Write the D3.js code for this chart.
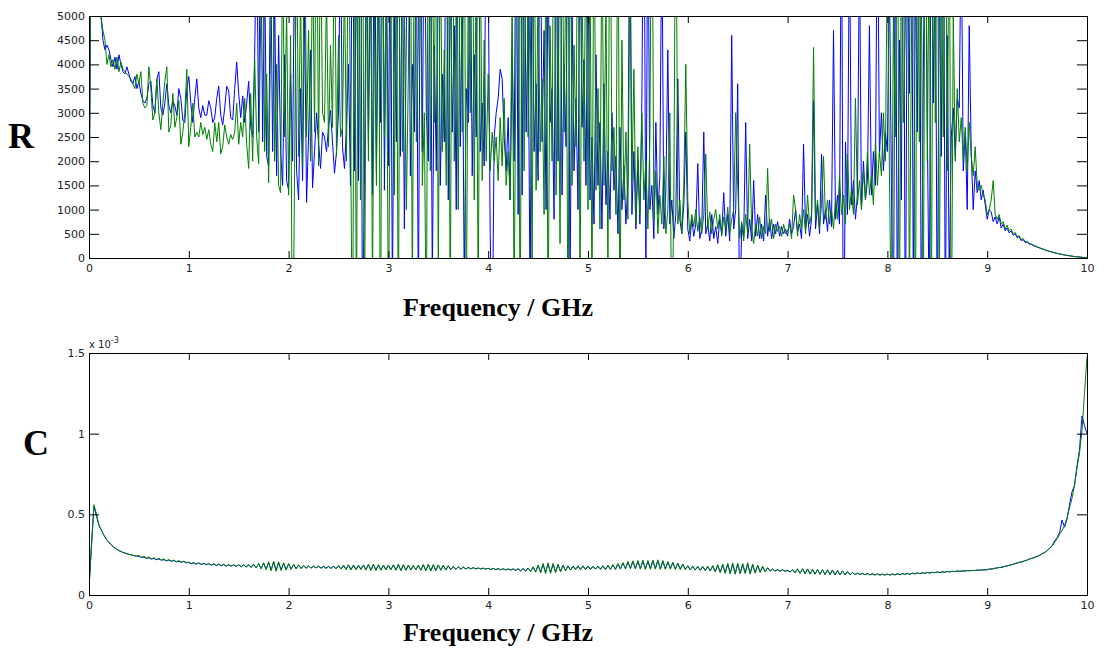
<!DOCTYPE html>
<html>
<head>
<meta charset="utf-8">
<script src="https://cdn.jsdelivr.net/npm/d3@7"></script>
<style>
  body { margin: 0; background: #fff; }
  svg { display: block; }
</style>
</head>
<body>
<svg id="chart" width="1107" height="650"></svg>
<script>
// sample spacing in GHz (R every 0.02, C every 0.025, starting at 0)
const rStep = 0.02;
const cStep = 0.025;

// R, blue trace (ohm), one line per 0.5 GHz
const rBlue = [
  0, 7000, 6500, 6000, 5600, 5300, 5000, 4500, 4300, 4400, 4300, 4100, 3950, 4150, 3900, 4200, 4000, 3850, 3800, 3950, 3800, 3650, 3600, 3750, 3500,
  3650, 3400, 3250, 3200, 3300, 3600, 3650, 3150, 3000, 3700, 3850, 3100, 2950, 3200, 3600, 3150, 3000, 3250, 3150, 2950, 3500, 3300, 2850, 2800, 3500,
  3750, 3200, 2800, 3300, 3700, 3100, 2900, 3150, 2950, 2950, 3250, 3100, 2800, 2900, 3300, 3550, 2950, 2750, 3100, 3550, 3450, 2900, 2850, 3500, 4050,
  3400, 2900, 3350, 2800, 3200, 3650, 2700, 2500, 4200, 7000, 2600, 7500, 2400, 6000, 2100, 1900, 6500, 2200, 5500, 1700, 4600, 2200, 1500, 4200, 1600,
  1400, 3800, 2000, 6500, 1800, 1200, 3500, 1600, 5200, 1150, 2500, 4300, 1450, 2200, 3000, 2400, 1850, 2600, 2500, 2200, 2700, 3050, 2400, 1750, 2200,
  3000, 7000, 2300, 1850, 2700, 4000, 1500, 8000, 1800, 6500, 1600, 9000, -1500, 1500, 7000, 2400, 6000, 1300, 8000, 1800, 5500, 2800, 9000, 1400, 6000,
  1900, 7500, -800, 5000, 2400, 8000, 2100, 6500, 600, 4800, 9000, 1700, 4000, 2600, 7000, -1200, 6500, 2200, 8000, 3000, 2000, 7500, -500, 4400, 1800,
  8000, 1500, 3800, 2400, 9000, 1200, 6000, 2600, 4800, 1000, 8500, 2300, 5500, -600, 3500, 2800, 7000, 1700, 4200, 2500, 9000, 2200, 3200, 1900, 8000,
  6000, 500, -2000, 2500, 3000, 3300, 3900, 3700, 2500, 1800, 2900, 1200, 4200, 2000, 8000, 900, 9000, 1300, 7500, 2600, 5000, -1000, 6800, 2200, 3600,
  1600, 8500, 2400, 4700, 1000, 6000, 2800, 3500, 800, 7500, 2000, 9000, 1300, 4000, 2300, 8500, -800, 5200, 1800, 3300, 1000, 7000, 2700, 4100, 1500,
  6500, 1200, 2500, 700, 4200, 1500, 2800, 600, 3600, 1100, 2200, 800, 3000, 1400, 2100, 500, 2700, 1000, 1900, 700, 1600, 8000, 900, 2200, 600,
  2000, 700, 3300, 9000, -500, 8000, 1000, 1500, 400, 2800, 900, 1700, 7000, 600, 1400, 4300, 700, 1200, 400, 900, 3700, 800, 500, 1100, 2600,
  600, 350, 800, 450, 700, 1950, 400, 600, 2600, 500, 700, 350, 900, 400, 650, 300, 800, 500, 1350, 450, 900, 350, 4600, 600, 1000,
  3600, -1500, 700, 450, 2800, 400, 800, 350, 1600, 450, 900, 400, 700, 350, 1300, 450, 800, 400, 700, 500, 750, 450, 650, 500, 600,
  450, 800, 500, 650, 1000, 550, 700, 400, 2350, 600, 900, 450, 800, 3250, 600, 1100, 500, 2150, 700, 1000, 550, 1200, 650, 4700, 800,
  1300, 700, 8000, -3000, 2400, 900, 7000, 1100, 1600, 800, 1300, 6500, 1000, 2000, 1200, 1600, 4800, 1300, 2200, 1500, 8000, 2100, 3000, 1800, 2600,
  2200, 6000, 1500, -2000, 8000, -1500, 4500, 1200, 9000, -2500, 7000, 3400, 9000, -1000, 6000, 2600, 9000, -2000, 3800, 8000, 2700, -1500, 9000, 3200, 7000,
  -2000, 6000, 2100, 9000, -1500, 4600, -500, 2500, 3100, 2100, 3300, 3100, 7000, 1800, 2600, 1000, 4800, 2200, 1000, 1800, 1350, 1600, 1200, 1400, 1100,
  800, 1000, 950, 750, 850, 700, 850, 620, 700, 560, 620, 520, 560, 470, 500, 420, 440, 360, 380, 320, 330, 290, 280, 260, 240,
  225, 210, 195, 180, 165, 150, 138, 126, 115, 104, 94, 85, 76, 68, 60, 53, 46, 40, 34, 29, 24, 20, 16, 12, 9,
  6
];

// R, green trace (ohm)
const rGreen = [
  300, 7000, 6800, 6200, 5800, 5400, 5000, 4700, 4500, 4000, 4200, 3950, 4100, 3900, 4150, 3850, 4050, 3900, 3850, 3800, 3750, 3700, 3600, 3500, 3800,
  3600, 3850, 3200, 3100, 3150, 3950, 3500, 2850, 3000, 3700, 3000, 2650, 3200, 3650, 3950, 2600, 2750, 3400, 2700, 2900, 3250, 2350, 2600, 3000, 3900,
  2300, 2700, 3200, 2500, 2600, 2500, 2800, 2550, 2700, 2450, 2650, 2350, 2200, 2800, 2400, 2800, 2150, 2300, 2750, 2500, 2350, 2550, 2450, 2600, 3200,
  2350, 2800, 2500, 3300, 2350, 1850, 3400, 2000, 4100, 2500, 1950, 4800, 8000, 2200, 3800, 1550, 4500, 7500, 2000, 4000, 1500, 1350, 6500, 2500, 5200,
  1300, 4600, -3000, 1800, 7000, 2100, 5500, 1900, 8000, 2500, 4700, 2000, 6500, 2600, 8500, 1900, 7000, 3000, 2800, 5500, 2300, 4400, 2700, 7000, 2100,
  4600, 2500, 2700, 5800, 2000, 7500, 3000, -2500, 7000, -1500, 8000, 1200, 9000, -2000, 6500, 2000, 9000, -800, 5000, 1500, 8500, -2500, 7000, 2500, 6000,
  -1500, 4000, 8000, 1300, 6800, -2000, 9000, 2200, 5000, 1000, 3800, 8000, -1000, 7500, 2400, 4500, 9000, 1500, 3000, -2000, 8500, 1800, 6500, 2800, 9000,
  -500, 7000, 2200, 4300, 1500, 8000, -1500, 9000, 2000, 5500, 1000, 7500, 2600, 8500, -2000, 6000, 3000, 9000, 1200, 6500, -1000, 7000, 1600, 4500, 2000,
  3800, 1800, 2600, 2000, 2500, 1600, 2900, 1900, 3300, 1500, 2200, 1200, 5500, -1000, 4800, 8000, -2000, 7500, 1800, 9000, 2500, 5500, -500, 8000, 1400,
  6000, 2200, 3700, 900, 7000, -1500, 4800, 2000, 9000, 1300, 5200, 300, 8000, 2600, 6500, -2000, 9000, 1500, 4400, 2300, 8500, -800, 5800, 2000, 7500,
  1000, 6500, -1000, 8000, 1400, 3500, 600, 7000, 1500, 5500, -500, 9000, 1800, 2700, 900, 8000, -1500, 4500, 1200, 2600, 800, 6000, 1600, 3900, 700,
  2300, 900, 3000, 1200, 2000, 600, 2500, 9000, 800, 1800, 500, 1300, 700, 2100, 500, 1000, 3000, -2000, 1200, 9000, 700, 1200, 500, 1500, 4000,
  1200, 500, 900, 650, 1000, 550, 850, 500, 900, 2150, 600, 950, 500, 800, 1000, 600, 900, 450, 850, 600, 1050, 500, 800, 1000, 3000,
  1500, 400, 750, 350, 900, 500, 2350, 600, 300, 700, 450, 850, 400, 650, 500, 1850, 550, 800, 400, 700, 550, 650, 450, 700, 500,
  550, 700, 400, 1300, 1000, 450, 900, 600, 1000, 500, 1300, 700, 900, 4350, 800, 1200, 600, 1100, 2100, 800, 1200, 700, 1000, 600, 1200,
  800, 1700, 900, 1300, 700, 2150, 1000, 1400, 900, 3300, 1100, 1600, 1000, 1800, 1200, 2200, 1300, 1700, 1100, 2400, 1500, 2200, 1700, 3000, 2000,
  6500, 1800, -1500, 5000, 2500, 9000, -2000, 7000, 2800, 4800, 9000, -1000, 4200, 8000, -2500, 9000, 2400, 6000, -1500, 9000, 2000, 7000, -2000, 8500, 2800,
  9000, -1000, 6500, 2500, 9000, 1800, 8000, -2500, 5000, 2000, 3500, 2400, 2900, 2000, 2700, 1800, 2800, 2100, 1700, 2300, 1500, 1400, 1500, 1300, 1200,
  900, 1000, 1200, 1600, 900, 800, 900, 700, 750, 600, 680, 560, 600, 500, 530, 440, 460, 380, 400, 340, 345, 300, 290, 270, 250,
  232, 216, 200, 185, 170, 155, 142, 130, 118, 107, 97, 88, 79, 70, 62, 55, 48, 42, 36, 30, 25, 21, 17, 13, 10,
  7
];

// C, blue trace (x 10^-3), one line per GHz
const cBlue = [
  0.04, 0.30, 0.55, 0.49, 0.43, 0.40, 0.37, 0.345, 0.325, 0.31, 0.295, 0.285, 0.275, 0.268, 0.262, 0.257, 0.252, 0.248, 0.244, 0.240, 0.240, 0.232, 0.234, 0.227, 0.230, 0.223, 0.226, 0.219, 0.223, 0.216, 0.219, 0.212, 0.216, 0.209, 0.213, 0.206, 0.210, 0.203, 0.207, 0.200,
  0.201, 0.194, 0.199, 0.192, 0.197, 0.190, 0.195, 0.188, 0.193, 0.186, 0.191, 0.184, 0.190, 0.182, 0.188, 0.180, 0.187, 0.179, 0.186, 0.178, 0.186, 0.176, 0.186, 0.174, 0.186, 0.172, 0.188, 0.170, 0.192, 0.165, 0.196, 0.160, 0.200, 0.155, 0.205, 0.152, 0.200, 0.156, 0.196, 0.158,
  0.192, 0.160, 0.188, 0.163, 0.185, 0.165, 0.182, 0.166, 0.180, 0.167, 0.178, 0.168, 0.177, 0.167, 0.176, 0.166, 0.176, 0.165, 0.177, 0.164, 0.180, 0.162, 0.183, 0.160, 0.185, 0.158, 0.184, 0.159, 0.182, 0.160, 0.184, 0.157, 0.187, 0.155, 0.188, 0.154, 0.186, 0.156, 0.184, 0.158,
  0.183, 0.158, 0.185, 0.155, 0.187, 0.153, 0.186, 0.154, 0.183, 0.156, 0.181, 0.157, 0.183, 0.154, 0.186, 0.152, 0.188, 0.151, 0.186, 0.153, 0.184, 0.155, 0.182, 0.156, 0.179, 0.158, 0.176, 0.160, 0.174, 0.161, 0.172, 0.162, 0.170, 0.163, 0.169, 0.162, 0.167, 0.162, 0.166, 0.161,
  0.165, 0.159, 0.164, 0.158, 0.163, 0.157, 0.162, 0.156, 0.161, 0.155, 0.161, 0.153, 0.162, 0.150, 0.163, 0.148, 0.166, 0.147, 0.172, 0.146, 0.182, 0.145, 0.190, 0.142, 0.194, 0.140, 0.192, 0.143, 0.188, 0.147, 0.183, 0.152, 0.180, 0.156, 0.178, 0.158, 0.180, 0.157, 0.179, 0.158,
  0.178, 0.160, 0.177, 0.161, 0.178, 0.160, 0.180, 0.159, 0.182, 0.160, 0.186, 0.160, 0.192, 0.162, 0.198, 0.164, 0.204, 0.166, 0.208, 0.165, 0.210, 0.164, 0.212, 0.162, 0.210, 0.163, 0.212, 0.164, 0.214, 0.162, 0.210, 0.163, 0.205, 0.164, 0.200, 0.162, 0.195, 0.161, 0.190, 0.160,
  0.180, 0.156, 0.178, 0.155, 0.176, 0.154, 0.175, 0.153, 0.176, 0.150, 0.180, 0.146, 0.184, 0.141, 0.188, 0.137, 0.191, 0.134, 0.193, 0.132, 0.192, 0.134, 0.190, 0.136, 0.192, 0.134, 0.188, 0.138, 0.182, 0.142, 0.176, 0.146, 0.168, 0.148, 0.160, 0.149, 0.157, 0.148, 0.156, 0.147,
  0.152, 0.143, 0.156, 0.139, 0.160, 0.135, 0.161, 0.133, 0.160, 0.131, 0.158, 0.130, 0.157, 0.129, 0.156, 0.128, 0.155, 0.127, 0.154, 0.126, 0.152, 0.125, 0.150, 0.124, 0.146, 0.125, 0.140, 0.126, 0.136, 0.127, 0.134, 0.126, 0.133, 0.125, 0.132, 0.124, 0.131, 0.123, 0.130, 0.123,
  0.130, 0.123, 0.131, 0.124, 0.132, 0.125, 0.133, 0.127, 0.134, 0.128, 0.136, 0.130, 0.137, 0.132, 0.138, 0.134, 0.140, 0.136, 0.141, 0.138, 0.143, 0.139, 0.144, 0.141, 0.146, 0.143, 0.147, 0.145, 0.149, 0.146, 0.150, 0.148, 0.152, 0.150, 0.153, 0.151, 0.155, 0.153, 0.156, 0.155,
  0.158, 0.162, 0.160, 0.166, 0.168, 0.172, 0.171, 0.178, 0.180, 0.186, 0.188, 0.195, 0.198, 0.204, 0.205, 0.212, 0.216, 0.224, 0.228, 0.232, 0.240, 0.245, 0.256, 0.262, 0.275, 0.290, 0.305, 0.335, 0.355, 0.385, 0.465, 0.420, 0.470, 0.560, 0.640, 0.680, 0.800, 0.900, 1.110, 1.050,
  1.000
];

// C, green trace (x 10^-3)
const cGreen = [
  0.04, 0.32, 0.56, 0.50, 0.435, 0.40, 0.37, 0.345, 0.325, 0.31, 0.295, 0.284, 0.275, 0.268, 0.262, 0.257, 0.252, 0.249, 0.245, 0.242, 0.245, 0.233, 0.240, 0.228, 0.236, 0.224, 0.231, 0.220, 0.227, 0.216, 0.224, 0.212, 0.220, 0.209, 0.217, 0.206, 0.213, 0.203, 0.210, 0.200,
  0.204, 0.194, 0.202, 0.191, 0.200, 0.189, 0.198, 0.187, 0.196, 0.185, 0.194, 0.183, 0.193, 0.181, 0.191, 0.179, 0.190, 0.178, 0.189, 0.176, 0.189, 0.174, 0.189, 0.172, 0.189, 0.170, 0.192, 0.167, 0.196, 0.162, 0.200, 0.157, 0.206, 0.150, 0.210, 0.147, 0.205, 0.151, 0.200, 0.154,
  0.196, 0.158, 0.191, 0.161, 0.188, 0.163, 0.184, 0.165, 0.182, 0.166, 0.180, 0.167, 0.179, 0.166, 0.178, 0.165, 0.178, 0.164, 0.179, 0.162, 0.183, 0.160, 0.186, 0.157, 0.188, 0.155, 0.187, 0.156, 0.185, 0.157, 0.187, 0.154, 0.191, 0.152, 0.192, 0.151, 0.189, 0.153, 0.186, 0.155,
  0.186, 0.156, 0.188, 0.153, 0.190, 0.151, 0.189, 0.152, 0.186, 0.154, 0.184, 0.155, 0.186, 0.152, 0.189, 0.150, 0.191, 0.149, 0.189, 0.151, 0.187, 0.153, 0.185, 0.154, 0.182, 0.156, 0.178, 0.158, 0.176, 0.159, 0.174, 0.161, 0.172, 0.162, 0.170, 0.161, 0.168, 0.161, 0.167, 0.160,
  0.166, 0.158, 0.165, 0.157, 0.164, 0.156, 0.163, 0.155, 0.162, 0.154, 0.162, 0.151, 0.163, 0.148, 0.165, 0.146, 0.168, 0.144, 0.175, 0.141, 0.186, 0.136, 0.195, 0.132, 0.199, 0.134, 0.196, 0.138, 0.191, 0.143, 0.186, 0.149, 0.182, 0.154, 0.180, 0.156, 0.182, 0.155, 0.181, 0.156,
  0.180, 0.159, 0.179, 0.160, 0.180, 0.158, 0.182, 0.157, 0.185, 0.158, 0.189, 0.158, 0.195, 0.160, 0.202, 0.161, 0.208, 0.162, 0.212, 0.161, 0.214, 0.160, 0.216, 0.158, 0.214, 0.159, 0.216, 0.160, 0.218, 0.158, 0.214, 0.159, 0.208, 0.160, 0.203, 0.158, 0.198, 0.157, 0.193, 0.157,
  0.182, 0.155, 0.180, 0.154, 0.178, 0.153, 0.177, 0.151, 0.178, 0.148, 0.183, 0.143, 0.188, 0.138, 0.192, 0.134, 0.196, 0.131, 0.198, 0.129, 0.197, 0.131, 0.195, 0.133, 0.200, 0.130, 0.192, 0.135, 0.185, 0.140, 0.178, 0.145, 0.170, 0.147, 0.162, 0.148, 0.158, 0.147, 0.157, 0.146,
  0.154, 0.142, 0.159, 0.137, 0.163, 0.133, 0.164, 0.131, 0.162, 0.129, 0.160, 0.128, 0.159, 0.127, 0.157, 0.126, 0.156, 0.126, 0.154, 0.125, 0.152, 0.124, 0.149, 0.124, 0.145, 0.125, 0.139, 0.126, 0.135, 0.127, 0.133, 0.126, 0.132, 0.125, 0.131, 0.124, 0.130, 0.124, 0.129, 0.124,
  0.129, 0.124, 0.130, 0.125, 0.131, 0.126, 0.132, 0.128, 0.133, 0.129, 0.135, 0.131, 0.136, 0.133, 0.137, 0.135, 0.139, 0.137, 0.140, 0.139, 0.142, 0.140, 0.143, 0.142, 0.145, 0.144, 0.146, 0.146, 0.148, 0.147, 0.149, 0.149, 0.151, 0.151, 0.152, 0.152, 0.154, 0.154, 0.155, 0.156,
  0.156, 0.160, 0.163, 0.164, 0.168, 0.170, 0.174, 0.176, 0.181, 0.184, 0.189, 0.193, 0.198, 0.202, 0.207, 0.211, 0.217, 0.222, 0.228, 0.234, 0.240, 0.247, 0.255, 0.264, 0.274, 0.288, 0.302, 0.325, 0.350, 0.375, 0.400, 0.430, 0.480, 0.540, 0.600, 0.680, 0.790, 0.880, 1.020, 1.250,
  1.480
];

const freqTicks = d3.range(0, 11);
const rTicks = d3.range(0, 5001, 500);
const cTicks = [0, 0.5, 1, 1.5];

const svg = d3.select('#chart');
const x = d3.scaleLinear().domain([0, 10]).range([89, 1087]);

const panels = [
  {
    id: 'r', top: 16, bottom: 258, domain: [0, 5000], ticks: rTicks,
    fmt: d3.format('d'), step: rStep, series: [rBlue, rGreen],
    name: 'R', nameX: 21, nameY: 148, xlabelY: 316
  },
  {
    id: 'c', top: 353, bottom: 595, domain: [0, 1.5], ticks: cTicks,
    fmt: (d) => String(d), step: cStep, series: [cBlue, cGreen],
    name: 'C', nameX: 36, nameY: 455, xlabelY: 641
  }
];

const colors = ['#0000ff', '#008000'];
const tickFont = '"DejaVu Sans", sans-serif';

panels.forEach((p) => {
  const y = d3.scaleLinear().domain(p.domain).range([p.bottom, p.top]);
  const g = svg.append('g');

  svg.append('clipPath').attr('id', `clip-${p.id}`)
    .append('rect')
    .attr('x', x(0)).attr('y', p.top)
    .attr('width', x(10) - x(0)).attr('height', p.bottom - p.top);

  const lines = g.append('g').attr('clip-path', `url(#clip-${p.id})`);
  const line = d3.line()
    .x((d, i) => x(i * p.step))
    .y((d) => y(d));

  p.series.forEach((values, k) => {
    lines.append('path')
      .datum(values)
      .attr('d', line)
      .attr('fill', 'none')
      .attr('stroke', colors[k])
      .attr('stroke-width', 1)
      .attr('stroke-linejoin', 'round');
  });

  // inward ticks on all four sides, labels on left and bottom
  const bottomAxis = d3.axisBottom(x).tickValues(freqTicks).tickSize(-7).tickSizeOuter(0).tickPadding(6);
  const topAxis = d3.axisTop(x).tickValues(freqTicks).tickSize(-7).tickSizeOuter(0).tickFormat('');
  const leftAxis = d3.axisLeft(y).tickValues(p.ticks).tickSize(-10).tickSizeOuter(0).tickPadding(4).tickFormat(p.fmt);
  const rightAxis = d3.axisRight(y).tickValues(p.ticks).tickSize(-10).tickSizeOuter(0).tickFormat('');

  const axes = [
    [bottomAxis, `translate(0,${p.bottom})`],
    [topAxis, `translate(0,${p.top})`],
    [leftAxis, `translate(${x(0)},0)`],
    [rightAxis, `translate(${x(10)},0)`]
  ];
  axes.forEach(([axis, tr]) => {
    const a = g.append('g').attr('transform', tr).call(axis);
    a.select('.domain').remove();
    a.selectAll('line').attr('stroke', '#000');
    a.selectAll('text')
      .attr('font-family', tickFont)
      .attr('font-size', 11)
      .attr('fill', '#222');
  });

  g.append('rect')
    .attr('x', x(0) + 0.5).attr('y', p.top + 0.5)
    .attr('width', x(10) - x(0)).attr('height', p.bottom - p.top)
    .attr('fill', 'none')
    .attr('stroke', '#000')
    .attr('stroke-width', 1);

  svg.append('text')
    .attr('x', p.nameX).attr('y', p.nameY)
    .attr('text-anchor', 'middle')
    .attr('font-family', '"Liberation Serif", "Times New Roman", serif')
    .attr('font-weight', 'bold')
    .attr('font-size', 36)
    .text(p.name);

  svg.append('text')
    .attr('x', (x(0) + x(10)) / 2 - 90).attr('y', p.xlabelY)
    .attr('text-anchor', 'middle')
    .attr('font-family', '"Liberation Serif", "Times New Roman", serif')
    .attr('font-weight', 'bold')
    .attr('font-size', 26)
    .text('Frequency / GHz');
});

// exponent note of the C axis
const expo = svg.append('text')
  .attr('x', 89).attr('y', 348)
  .attr('font-family', tickFont)
  .attr('font-size', 10)
  .attr('fill', '#222');
expo.append('tspan').text('x 10');
expo.append('tspan').attr('dy', -5).attr('font-size', 8).text('-3');
</script>
</body>
</html>
